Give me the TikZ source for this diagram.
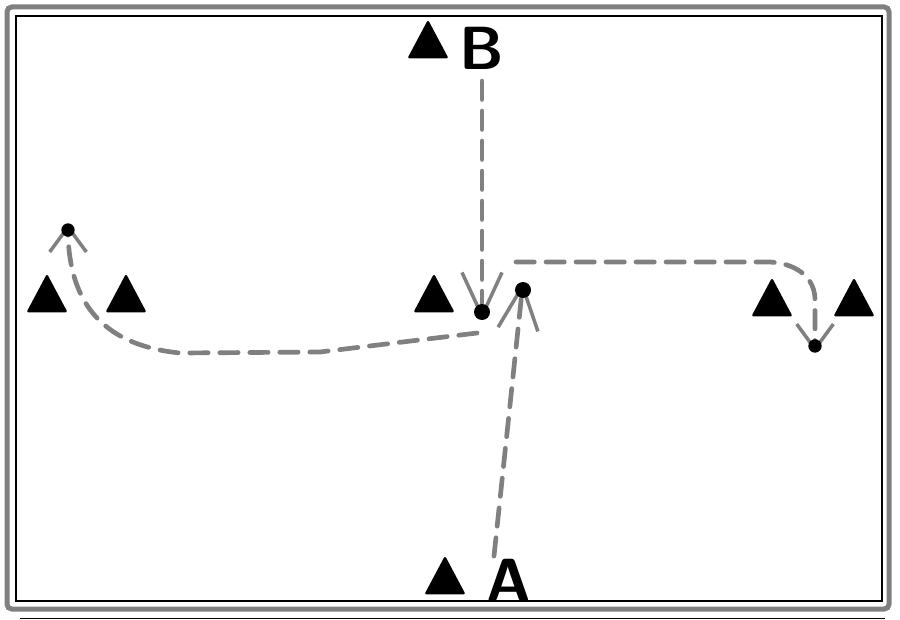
\documentclass[tikz,border=0pt]{standalone}
\usepackage{tikz}
\usetikzlibrary{arrows.meta,shapes.geometric,positioning,calc}
\definecolor{routegray}{gray}{0.5}
\definecolor{framegray}{gray}{0.5}
\tikzstyle{cone} = [isosceles triangle, isosceles triangle apex angle=56, shape border rotate=90, fill=black, draw=black, line width=2pt, line join=round, inner sep=0pt, minimum height=1.05cm, minimum width=1.1cm]
\tikzstyle{route} = [draw=routegray, line width=4pt, line cap=round, dash pattern=on 0.55cm off 0.35cm, -{Straight Barb[length=1.3cm,width=1.2cm,line width=3pt]}]
\tikzstyle{sideroute} = [route, -{Straight Barb[length=0.75cm,width=1.1cm,line width=3pt]}]
\tikzstyle{letter} = [font=\fontsize{52}{52}\selectfont\sffamily\bfseries, inner sep=0pt]

\begin{document}
\begin{tikzpicture}[x=0.03cm,y=-0.03cm]
\useasboundingbox (0,0) rectangle (900,620);
% frame
\draw[framegray, line width=0.15cm, rounded corners=4] (7,7) rectangle (889,609);
\draw[line width=1pt] (16,16) rectangle (882,601);
\draw[line width=0.8pt] (20,618) -- (885,618);
% cones
\node[cone] (coneB) at (428,46) {};
\node[cone] (coneLa) at (47,300) {};
\node[cone] (coneLb) at (126,300) {};
\node[cone] (coneC) at (434,300) {};
\node[cone] (coneRa) at (772,304) {};
\node[cone] (coneRb) at (854,304) {};
\node[cone] (coneA) at (445,582) {};
% letters
\node[letter] (B) at (482,48) {B};
\node[letter] (A) at (509,580) {A};
% ends of the routes
\coordinate (bTip) at (482,320);
\coordinate (aStart) at (494,556);
\coordinate (aTip) at (523,282);
\coordinate (lStart) at (477,333);
\coordinate (lTip) at (68,224);
\coordinate (rStart) at (516,262);
\coordinate (rTip) at (815,352);
% routes
\draw[route, shorten <=10] (B) -- (bTip);
\draw[route] (aStart) -- (aTip);
\draw[sideroute] (lStart) -- (320,352) -- (180,353) .. controls (100,345) and (68,300) .. (lTip);
\draw[sideroute] (rStart) -- (770,262) .. controls (800,264) and (815,280) .. (815,300) -- (rTip);
% tips
\fill (bTip) ++(0,-8) circle (0.24cm);
\fill (aTip) ++(0,8) circle (0.24cm);
\fill (lTip) ++(0,6) circle (0.2cm);
\fill (rTip) ++(0,-6) circle (0.2cm);
\end{tikzpicture}
\end{document}
